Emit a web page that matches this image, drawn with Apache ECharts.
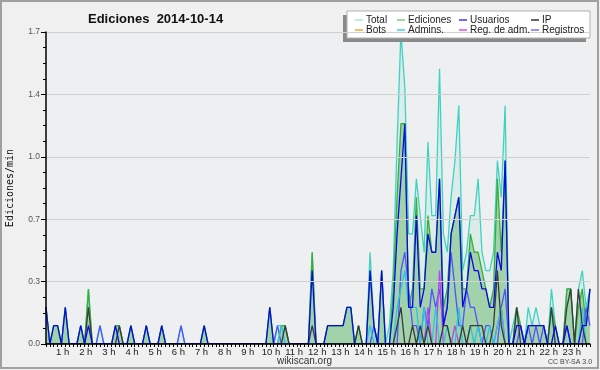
<!DOCTYPE html>
<html><head><meta charset="utf-8">
<script src="https://cdn.jsdelivr.net/npm/echarts@6/dist/echarts.min.js"></script>
<style>html,body{margin:0;padding:0;background:#f0f0f0}#c{width:600px;height:370px}</style>
</head><body><div id="c"></div>
<script>
// one value per 10-minute slot (6 per hour), edits per minute
const total = [
 .2,0,.1,.1,0,.2,  0,0,0,.1,0,.3,  0,0,.1,0,0,0,  .1,.1,0,0,.1,0,
 0,0,.1,0,0,0,  .1,0,0,0,0,.1,  0,0,0,0,0,.1,  0,0,0,0,0,0,
 0,0,0,0,0,0,  0,0,0,0,.2,0,  .1,.1,.1,0,0,0,  0,0,0,.5,0,0,
 0,.1,.1,.1,.1,.1,  .2,.2,0,.1,0,0,  .5,.1,0,.4,0,.1,  .4,1.1,1.7,1.4,.6,.6,
 .9,.7,.5,1.1,.7,.7,  1.5,.6,.5,.8,1.0,1.3,  .4,.5,.7,.7,.9,.5,  .4,.4,.5,1.0,.8,1.3,
 0,.1,.2,.1,0,.2,  .1,.2,.1,.1,0,.3,  .1,0,0,.3,.3,0,  .3,.4,.2,.3
];
const ediciones = [
 .2,0,.1,.1,0,.2,  0,0,0,.1,0,.3,  0,0,0,0,0,0,  .1,.1,0,0,.1,0,
 0,0,.1,0,0,0,  .1,0,0,0,0,0,  0,0,0,0,0,.1,  0,0,0,0,0,0,
 0,0,0,0,0,0,  0,0,0,0,.2,0,  0,.1,.1,0,0,0,  0,0,0,.5,0,0,
 0,.1,.1,.1,.1,.1,  .2,.2,0,.1,0,0,  .4,.1,0,.4,0,0,  .3,.8,1.2,1.2,.2,.3,
 .8,.3,.3,.7,.5,.5,  .9,.2,.3,.6,.7,.8,  .3,.3,.6,.5,.5,.4,  .3,.2,.3,.9,.5,1.0,
 0,0,.2,.1,0,.1,  .1,.1,.1,.1,0,.2,  .1,0,0,.3,.3,0,  .2,.3,.1,.3
];
const usuarios = [
 .2,0,.1,.1,0,.2,  0,0,0,.1,0,.1,  0,0,0,0,0,0,  .1,0,0,0,.1,0,
 0,0,.1,0,0,0,  .1,0,0,0,0,0,  0,0,0,0,0,.1,  0,0,0,0,0,0,
 0,0,0,0,0,0,  0,0,0,0,.2,0,  0,0,0,0,0,0,  0,0,0,.4,0,0,
 0,.1,.1,.1,.1,.1,  .2,.2,0,0,0,0,  .4,.1,0,.4,0,0,  .2,.6,.9,1.2,.2,.2,
 .7,.2,.3,.6,.5,.5,  .9,.1,.2,.6,.7,.8,  .2,.3,.5,.4,.4,.3,  .3,.2,.2,.5,.4,1.0,
 0,0,.1,.1,0,.1,  .1,.1,.1,.1,0,0,  .1,0,0,.1,0,0,  0,.1,.1,.3
];
const ip = [
 0,0,0,0,0,0,  0,0,0,0,0,.2,  0,0,0,0,0,0,  0,.1,0,0,0,0,
 0,0,0,0,0,0,  0,0,0,0,0,0,  0,0,0,0,0,0,  0,0,0,0,0,0,
 0,0,0,0,0,0,  0,0,0,0,0,0,  0,0,.1,0,0,0,  0,0,0,.1,0,0,
 0,0,0,0,0,0,  0,0,0,.1,0,0,  0,0,0,0,0,0,  0,.1,.2,0,0,.1,
 0,.1,0,.1,0,0,  0,.1,.1,0,0,0,  .1,0,.1,.1,.1,.1,  0,0,.1,.4,.1,0,
 0,0,.2,0,0,0,  0,0,0,0,0,.2,  0,0,0,.2,.3,0,  .3,.1,0,0
];
const bots = [
 0,0,0,0,0,0,  0,0,0,0,0,0,  0,0,0,0,0,0,  0,0,0,0,0,0,
 0,0,0,0,0,0,  0,0,0,0,0,0,  0,0,0,0,0,0,  0,0,0,0,0,0,
 0,0,0,0,0,0,  0,0,0,0,0,0,  0,0,0,0,0,0,  0,0,0,0,0,0,
 0,0,0,0,0,0,  0,0,0,0,0,0,  0,0,0,0,0,0,  0,0,0,0,0,0,
 0,0,0,0,0,0,  0,0,0,0,0,0,  0,0,0,0,0,0,  0,0,0,0,0,0,
 0,0,0,0,0,0,  0,0,0,0,0,0,  0,0,0,0,0,0,  0,0,0,0
];
const admins = [
 0,0,0,0,0,0,  0,0,0,0,0,0,  0,0,0,0,0,0,  0,0,0,0,0,0,
 0,0,0,0,0,0,  0,0,0,0,0,0,  0,0,0,0,0,0,  0,0,0,0,0,0,
 0,0,0,0,0,0,  0,0,0,0,0,0,  0,.1,0,0,0,0,  0,0,0,0,0,0,
 0,0,0,0,0,0,  0,0,0,0,0,0,  .1,0,0,0,0,0,  0,.2,.3,.4,.2,.2,
 .2,0,.2,0,0,.2,  0,0,.1,0,0,.2,  0,0,.1,0,.1,0,  0,.1,0,.1,.2,0,
 0,0,0,0,0,0,  0,0,0,0,0,.2,  0,0,0,0,0,0,  0,.2,0,0
];
const regAdm = [
 0,0,0,0,0,0,  0,0,0,0,0,0,  0,0,0,0,0,0,  0,0,0,0,0,0,
 0,0,0,0,0,0,  0,0,0,0,0,0,  0,0,0,0,0,0,  0,0,0,0,0,0,
 0,0,0,0,0,0,  0,0,0,0,0,0,  0,0,0,0,0,0,  0,0,0,0,0,0,
 0,0,0,0,0,0,  0,0,0,0,0,0,  0,0,0,0,0,0,  0,0,0,0,0,0,
 0,0,0,.2,0,0,  .4,0,0,0,.1,0,  0,0,0,0,0,0,  0,0,0,.1,.2,0,
 0,0,0,0,0,0,  0,0,0,0,0,0,  0,0,0,0,0,0,  0,0,0,0
];
const registros = [
 0,0,0,0,0,0,  0,0,0,0,0,0,  0,0,.1,0,0,0,  0,0,0,0,0,0,
 0,0,0,0,0,0,  0,0,0,0,0,.1,  0,0,0,0,0,0,  0,0,0,0,0,0,
 0,0,0,0,0,0,  0,0,0,0,0,0,  .1,0,0,0,0,0,  0,0,0,0,0,0,
 0,0,0,0,0,0,  0,0,0,0,0,0,  0,.1,0,0,0,0,  0,0,.4,.5,.3,.1,
 .1,0,.2,.1,.3,.2,  .3,.1,.2,.5,.3,.1,  .1,.3,.2,.2,.1,0,  .1,.1,0,0,.2,.3,
 0,0,0,.1,0,.1,  0,.1,0,.1,0,0,  0,0,0,.1,0,0,  0,0,.2,.1
];
const hourLabels = ['1 h','2 h','3 h','4 h','5 h','6 h','7 h','8 h','9 h','10 h','11 h','12 h',
  '13 h','14 h','15 h','16 h','17 h','18 h','19 h','20 h','21 h','22 h','23 h'];
const yTickLabels = ['0.0','0.3','0.7','1.0','1.4','1.7'];
const titleText = 'Ediciones  2014-10-14';
const yName = 'Ediciones/min';

const LABEL_SHIFT = -1.7;      // hour labels sit slightly left of their slot
const SLOTS_PER_HOUR = 6;
const Y_STEP = 0.34;
const lastIndex = total.length - 1;

const toPairs = a => a.map((v, i) => [i, v]);
const labelPos = hourLabels.map((_, k) => SLOTS_PER_HOUR * (k + 1) + LABEL_SHIFT);
const tickPos = total.map((_, i) => i);

const chart = echarts.init(document.getElementById('c'), null, {renderer: 'canvas'});

function lineSeries(name, data, color, z, extra) {
  return Object.assign({
    name, type: 'line', data: toPairs(data), showSymbol: false, symbol: 'none',
    lineStyle: {color, width: 1.3}, itemStyle: {color}, z, animation: false
  }, extra || {});
}

const legendCols = [
  {names: ['Total', 'Bots'], left: 355},
  {names: ['Ediciones', 'Admins.'], left: 397},
  {names: ['Usuarios', 'Reg. de adm.'], left: 459},
  {names: ['IP', 'Registros'], left: 531}
];
const legendColors = {
  'Total': '#a8e6e2', 'Ediciones': '#7ccf7c', 'Usuarios': '#3a3aff', 'IP': '#333333',
  'Bots': '#ffa330', 'Admins.': '#3cd0e4', 'Reg. de adm.': '#dc48f4', 'Registros': '#7070ff'
};

chart.setOption({
  backgroundColor: '#f0f0f0',
  animation: false,
  title: {
    text: titleText, left: 83, top: 8,
    textStyle: {fontFamily: 'Liberation Sans', fontWeight: 'bold', fontSize: 13, color: '#111'}
  },
  legend: legendCols.map(c => ({
    orient: 'vertical', left: c.left, top: 15, padding: 0, itemGap: 0,
    itemWidth: 8, itemHeight: 1.5, icon: 'rect', selectedMode: false,
    data: c.names.map(n => ({name: n, itemStyle: {color: legendColors[n]}})),
    textStyle: {fontFamily: 'Liberation Sans', fontSize: 10, lineHeight: 9, color: '#222', padding: [0,0,0,-2]},
    z: 12
  })),
  grid: {left: 46, right: 10, top: 32, bottom: 26, show: true, backgroundColor: '#edeff1',
         borderWidth: 0, containLabel: false, outerBoundsMode: 'none'},
  xAxis: {
    type: 'value', min: 0, max: lastIndex, z: 10,
    axisLine: {show: true, lineStyle: {color: '#000', width: 1.5}},
    axisTick: {show: true, customValues: tickPos, length: 3, inside: false, lineStyle: {color: '#000'}},
    axisLabel: {
      customValues: labelPos, margin: 3, fontSize: 9.5, color: '#222', fontFamily: 'Liberation Sans',
      formatter: v => hourLabels[Math.round((v - LABEL_SHIFT) / SLOTS_PER_HOUR) - 1]
    },
    splitLine: {show: false}
  },
  yAxis: {
    type: 'value', min: 0, max: Y_STEP * 5, interval: Y_STEP, z: 10,
    name: yName, nameLocation: 'middle', nameRotate: 90, nameGap: 31,
    nameTextStyle: {fontFamily: 'DejaVu Sans Mono', fontSize: 10, color: '#111'},
    axisLine: {show: true, lineStyle: {color: '#000', width: 1.5}},
    axisTick: {show: true, length: 5, lineStyle: {color: '#000'}},
    minorTick: {show: true, splitNumber: 4, length: 3, lineStyle: {color: '#000'}},
    axisLabel: {
      margin: 6, fontSize: 8.5, color: '#555', fontFamily: 'Liberation Sans',
      formatter: v => yTickLabels[Math.round(v / Y_STEP)]
    },
    splitLine: {show: true, lineStyle: {color: '#cfd0d2', width: 1}}
  },
  series: [
    lineSeries('Total', total, '#3fd2c2', 2, {areaStyle: {color: 'rgba(150,225,205,0.30)'}}),
    lineSeries('Ediciones', ediciones, '#3aae3a', 3, {areaStyle: {color: 'rgba(60,165,60,0.52)'}}),
    lineSeries('Bots', bots, '#ffa330', 3),
    lineSeries('Registros', registros, '#5252ff', 4),
    lineSeries('Reg. de adm.', regAdm, '#c040ee', 4),
    lineSeries('Admins.', admins, '#2cc4de', 4),
    lineSeries('IP', ip, '#3a3a3a', 5),
    lineSeries('Usuarios', usuarios, '#0a0ae0', 6)
  ],
  graphic: [
    {type: 'rect', z: 100, silent: true, shape: {x: 1, y: 1, width: 597, height: 367},
     style: {fill: 'none', stroke: '#a0a0a0', lineWidth: 2}},
    {type: 'rect', z: 9, silent: true, shape: {x: 343, y: 15, width: 243, height: 27},
     style: {fill: '#8a8a8a'}},
    {type: 'rect', z: 10, silent: true, shape: {x: 347, y: 11, width: 243, height: 27},
     style: {fill: '#ffffff', stroke: '#b0b0b0', lineWidth: 1}},
    {type: 'text', z: 20, left: 277, top: 356,
     style: {text: 'wikiscan.org', fontSize: 10, fontFamily: 'Liberation Sans', fill: '#333'}},
    {type: 'text', z: 20, left: 548, top: 359,
     style: {text: 'CC BY-SA 3.0', fontSize: 7, fontFamily: 'Liberation Sans', fill: '#444'}}
  ]
});
</script>
</body></html>
